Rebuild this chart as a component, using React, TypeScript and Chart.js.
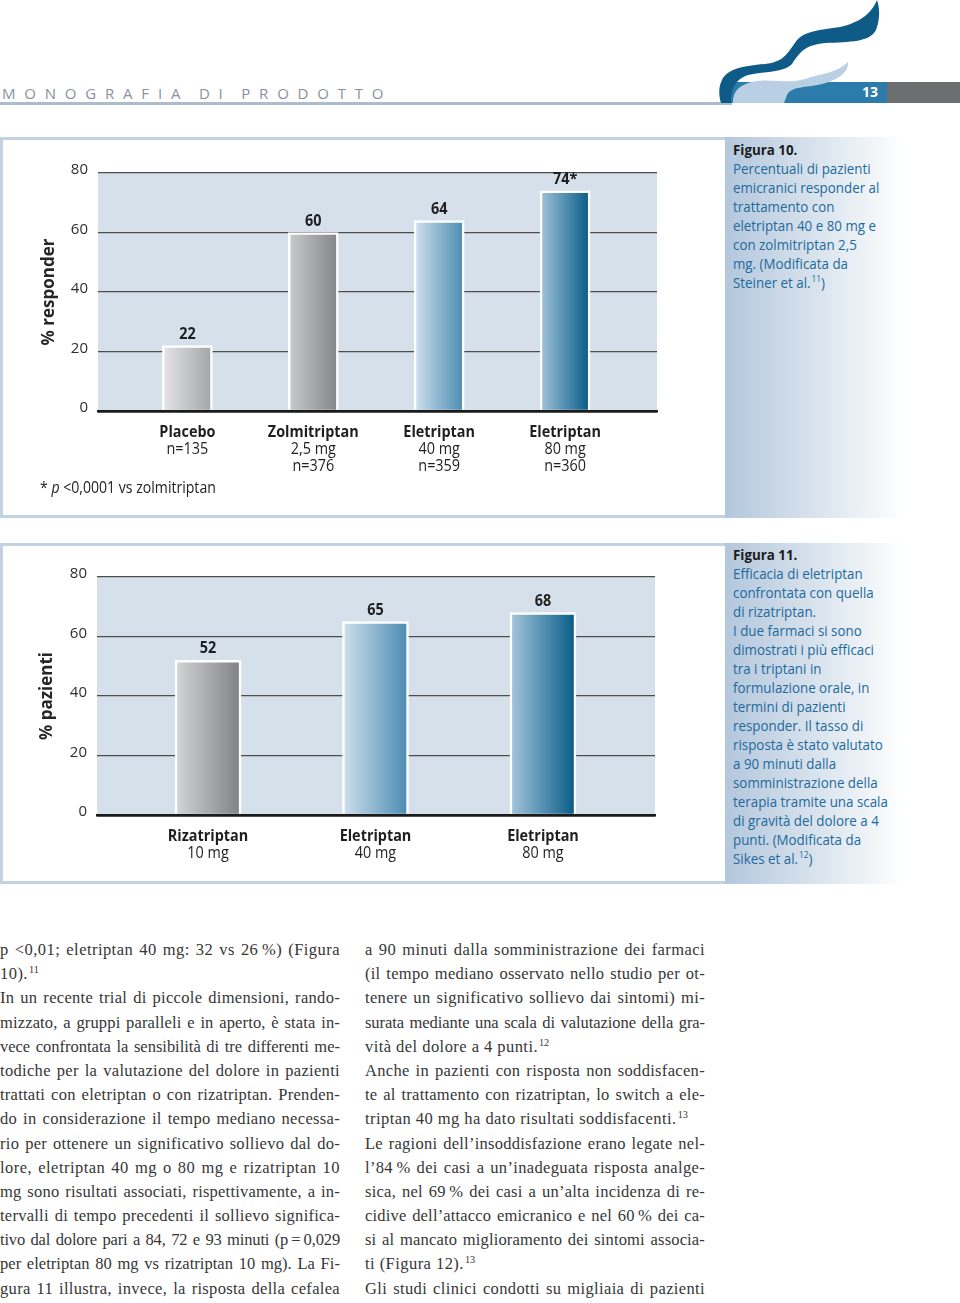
import React, { useEffect, useRef } from 'react';
import { Chart, registerables } from 'chart.js';

Chart.register(...registerables);

const SANS = "'Open Sans', 'Noto Sans', sans-serif";
const SERIF = "'Liberation Serif', 'Times New Roman', serif";

// ---------- Figure 10 data ----------
const fig10Categories: string[][] = [
  ['Placebo', 'n=135'],
  ['Zolmitriptan', '2,5 mg', 'n=376'],
  ['Eletriptan', '40 mg', 'n=359'],
  ['Eletriptan', '80 mg', 'n=360'],
];
const fig10Values = [22, 60, 64, 74];
const fig10ValueLabels = ['22', '60', '64', '74*'];
const fig10Gradients = [
  ['#e5e5e6', '#a2a4a7'],
  ['#cacbcd', '#838588'],
  ['#d0e1ed', '#4a8ab2'],
  ['#a2c3da', '#045b87'],
];

// ---------- Figure 11 data ----------
const fig11Categories: string[][] = [
  ['Rizatriptan', '10 mg'],
  ['Eletriptan', '40 mg'],
  ['Eletriptan', '80 mg'],
];
const fig11Values = [52, 65, 68];
const fig11ValueLabels = ['52', '65', '68'];
const fig11Gradients = [
  ['#d4d5d7', '#7f8184'],
  ['#cfe1ed', '#4a8ab2'],
  ['#a6c6dc', '#055b86'],
];

const yTickValues = [0, 20, 40, 60, 80];

// ---------- captions & body ----------
const fig10Caption = [
  'Percentuali di pazienti',
  'emicranici responder al',
  'trattamento con',
  'eletriptan 40 e 80 mg e',
  'con zolmitriptan 2,5',
  'mg. (Modificata da',
];
const fig11Caption = [
  'Efficacia di eletriptan',
  'confrontata con quella',
  'di rizatriptan.',
  'I due farmaci si sono',
  'dimostrati i più efficaci',
  'tra i triptani in',
  'formulazione orale, in',
  'termini di pazienti',
  'responder. Il tasso di',
  'risposta è stato valutato',
  'a 90 minuti dalla',
  'somministrazione della',
  'terapia tramite una scala',
  'di gravità del dolore a 4',
  'punti. (Modificata da',
];

type Line = [string, string, boolean];
const leftLines: Line[] = [
  ['p <0,01; eletriptan 40 mg: 32 vs 26\u2009%) (Figura', '', true],
  ['10).', '11', false],
  ['In un recente trial di piccole dimensioni, rando-', '', true],
  ['mizzato, a gruppi paralleli e in aperto, è stata in-', '', true],
  ['vece confrontata la sensibilità di tre differenti me-', '', true],
  ['todiche per la valutazione del dolore in pazienti', '', true],
  ['trattati con eletriptan o con rizatriptan. Prenden-', '', true],
  ['do in considerazione il tempo mediano necessa-', '', true],
  ['rio per ottenere un significativo sollievo dal do-', '', true],
  ['lore, eletriptan 40 mg o 80 mg e rizatriptan 10', '', true],
  ['mg sono risultati associati, rispettivamente, a in-', '', true],
  ['tervalli di tempo precedenti il sollievo significa-', '', true],
  ['tivo dal dolore pari a 84, 72 e 93 minuti (p\u2009=\u20090,029', '', true],
  ['per eletriptan 80 mg vs rizatriptan 10 mg). La Fi-', '', true],
  ['gura 11 illustra, invece, la risposta della cefalea', '', true],
];
const rightLines: Line[] = [
  ['a 90 minuti dalla somministrazione dei farmaci', '', true],
  ['(il tempo mediano osservato nello studio per ot-', '', true],
  ['tenere un significativo sollievo dai sintomi) mi-', '', true],
  ['surata mediante una scala di valutazione della gra-', '', true],
  ['vità del dolore a 4 punti.', '12', false],
  ['Anche in pazienti con risposta non soddisfacen-', '', true],
  ['te al trattamento con rizatriptan, lo switch a ele-', '', true],
  ['triptan 40 mg ha dato risultati soddisfacenti.', '13', false],
  ['Le ragioni dell’insoddisfazione erano legate nel-', '', true],
  ['l’84\u2009% dei casi a un’inadeguata risposta analge-', '', true],
  ['sica, nel 69\u2009% dei casi a un’alta incidenza di re-', '', true],
  ['cidive dell’attacco emicranico e nel 60\u2009% dei ca-', '', true],
  ['si al mancato miglioramento dei sintomi associa-', '', true],
  ['ti (Figura 12).', '13', false],
  ['Gli studi clinici condotti su migliaia di pazienti', '', true],
];

// ---------- chart helpers ----------
function drawCondensed(ctx: CanvasRenderingContext2D, text: string, x: number, y: number, font: string, sx = 0.9) {
  ctx.save();
  ctx.font = font;
  ctx.translate(x, y);
  ctx.scale(sx, 1);
  ctx.fillText(text, 0, 0);
  ctx.restore();
}

type FigOpts = {
  categories: string[][];
  values: number[];
  valueLabels: string[];
  gradients: string[][];
  yTitle: string;
  titlePad: number;
  xMin: number;
  xMax: number;
  barPx: number;
  padTop: number;
  padRight: number;
  yWidth: number;
  xHeight: number;
};

function makeConfig(o: FigOpts): any {
  const bgPlugin = {
    id: 'plotBg',
    beforeDraw(chart: any) {
      const { ctx, chartArea } = chart;
      ctx.save();
      ctx.fillStyle = '#d5e0eb';
      ctx.fillRect(chartArea.left, chartArea.top, chartArea.right - chartArea.left, chartArea.bottom - chartArea.top);
      ctx.restore();
    },
  };
  const labelPlugin = {
    id: 'barLabels',
    afterDraw(chart: any) {
      const { ctx, chartArea } = chart;
      const xs = chart.scales.x;
      const meta = chart.getDatasetMeta(0);
      ctx.save();
      ctx.fillStyle = '#1f1f1f';
      ctx.textAlign = 'center';
      ctx.textBaseline = 'alphabetic';
      meta.data.forEach((bar: any, i: number) => {
        const cx = xs.getPixelForValue(i);
        drawCondensed(ctx, o.valueLabels[i], cx, bar.y - 7, `bold 16px ${SANS}`);
        o.categories[i].forEach((line, j) => {
          drawCondensed(ctx, line, cx, chartArea.bottom + 26 + j * 17, `${j === 0 ? 'bold ' : ''}16px ${SANS}`);
        });
      });
      ctx.restore();
    },
  };
  return {
    type: 'bar',
    data: {
      datasets: [
        {
          data: o.values.map((v, i) => ({ x: i, y: v })),
          barThickness: o.barPx,
          borderColor: '#ffffff',
          borderWidth: 2.5,
          backgroundColor: (c: any) => {
            const i = c.dataIndex ?? 0;
            if (c.type !== 'data') return o.gradients[0][1];
            const chart = c.chart;
            const xs = chart.scales && chart.scales.x;
            if (!xs || !chart.chartArea) return o.gradients[i][1];
            const cx = xs.getPixelForValue(i);
            const g = chart.ctx.createLinearGradient(cx - o.barPx / 2, 0, cx + o.barPx / 2, 0);
            g.addColorStop(0, o.gradients[i][0]);
            g.addColorStop(1, o.gradients[i][1]);
            return g;
          },
        },
      ],
    },
    options: {
      animation: false,
      responsive: true,
      maintainAspectRatio: false,
      devicePixelRatio: 1,
      layout: { padding: { left: 0, right: o.padRight, top: o.padTop, bottom: 0 } },
      plugins: { legend: { display: false }, tooltip: { enabled: false } },
      scales: {
        x: {
          type: 'linear',
          min: o.xMin,
          max: o.xMax,
          offset: false,
          grid: { display: false, drawTicks: false },
          ticks: { display: false },
          border: { display: true, color: '#1b1b1b', width: 2.5, z: 1 },
          afterFit: (s: any) => {
            s.height = o.xHeight;
          },
        },
        y: {
          min: 0,
          max: 80,
          afterBuildTicks: (s: any) => {
            s.ticks = yTickValues.map((v) => ({ value: v }));
          },
          grid: {
            color: (c: any) => (c.tick && c.tick.value === 0 ? '#1b1b1b' : '#4d4d4d'),
            lineWidth: (c: any) => (c.tick && c.tick.value === 0 ? 2.5 : 1.3),
            drawTicks: false,
          },
          border: { display: false },
          ticks: { padding: 10, color: '#2e2e2e', font: { size: 15, family: SANS }, labelOffset: -3 },
          title: {
            display: true,
            text: o.yTitle,
            color: '#262626',
            font: { size: 17, weight: 'bold', family: SANS },
            padding: { top: o.titlePad, bottom: 0 },
          },
          afterFit: (s: any) => {
            s.width = o.yWidth;
          },
        },
      },
    },
    plugins: [bgPlugin, labelPlugin],
  };
}

function BarFigure({ opts, left, top, width, height }: { opts: FigOpts; left: number; top: number; width: number; height: number }) {
  const ref = useRef<HTMLCanvasElement>(null);
  useEffect(() => {
    const chart = new Chart(ref.current as HTMLCanvasElement, makeConfig(opts));
    return () => chart.destroy();
  }, []);
  return (
    <div style={{ position: 'absolute', left, top, width, height }}>
      <canvas ref={ref} />
    </div>
  );
}

const supStyle: React.CSSProperties = {
  fontSize: '0.62em',
  verticalAlign: 'baseline',
  position: 'relative',
  top: '-0.6em',
  marginLeft: 1,
  letterSpacing: 0,
};

function Caption({ left, top, title, lines, last }: { left: number; top: number; title: string; lines: string[]; last: React.ReactNode }) {
  return (
    <div
      style={{
        position: 'absolute',
        left,
        top,
        fontFamily: SANS,
        fontSize: 15,
        lineHeight: '19px',
        whiteSpace: 'nowrap',
        transform: 'scaleX(0.89)',
        transformOrigin: 'left top',
        color: '#216a9c',
      }}
    >
      <div style={{ fontWeight: 700, color: '#1c1c1c' }}>{title}</div>
      {lines.map((l, i) => (
        <div key={i}>{l}</div>
      ))}
      <div>{last}</div>
    </div>
  );
}

// text measurement for fitting each justified line
const BODY_SIZE = 16.5;
const COL_W = 340;
let measureCtx: CanvasRenderingContext2D | null = null;
function measure(t: string): number {
  if (!measureCtx) measureCtx = document.createElement('canvas').getContext('2d');
  if (!measureCtx) return t.length * 7;
  measureCtx.font = `${BODY_SIZE}px ${SERIF}`;
  return measureCtx.measureText(t).width;
}
function spacingFor(t: string, justify: boolean): number {
  if (!justify) return 0.45;
  const w = measure(t);
  const spaces = (t.match(/ /g) || []).length;
  const s = (COL_W - w - spaces * 1.5) / t.length;
  return Math.max(-0.3, Math.min(0.6, s));
}

function Column({ left, top, lines }: { left: number; top: number; lines: Line[] }) {
  return (
    <div style={{ position: 'absolute', left, top, width: COL_W }}>
      {lines.map(([t, sup, j], i) => (
        <div
          key={i}
          style={{
            width: COL_W,
            height: 24.2,
            lineHeight: '24.2px',
            fontFamily: SERIF,
            fontSize: BODY_SIZE,
            color: '#363636',
            whiteSpace: 'nowrap',
            letterSpacing: `${spacingFor(t, j).toFixed(2)}px`,
            textAlign: j ? 'justify' : 'left',
            textAlignLast: j ? 'justify' : 'left',
          }}
        >
          {t}
          {sup ? <span style={supStyle}>{sup}</span> : null}
        </div>
      ))}
    </div>
  );
}

export default function App() {
  const fig10: FigOpts = {
    categories: fig10Categories,
    values: fig10Values,
    valueLabels: fig10ValueLabels,
    gradients: fig10Gradients,
    yTitle: '% responder',
    titlePad: 39,
    xMin: -0.71,
    xMax: 3.73,
    barPx: 50,
    padTop: 33,
    padRight: 68,
    yWidth: 98,
    xHeight: 104,
  };
  const fig11: FigOpts = {
    categories: fig11Categories,
    values: fig11Values,
    valueLabels: fig11ValueLabels,
    gradients: fig11Gradients,
    yTitle: '% pazienti',
    titlePad: 37,
    xMin: -0.663,
    xMax: 2.669,
    barPx: 66,
    padTop: 31,
    padRight: 70,
    yWidth: 97,
    xHeight: 66,
  };

  const panelBorder = '3px solid #c3d2e0';
  const captionBg = 'linear-gradient(90deg, #b3c7dd 0%, #d5e0eb 45%, #ffffff 100%)';

  return (
    <div style={{ position: 'absolute', left: 0, top: 0, width: 960, height: 1303, overflow: 'hidden', background: '#ffffff' }}>
      {/* Header */}
      <div
        style={{
          position: 'absolute',
          left: 2,
          top: 83,
          fontFamily: SANS,
          fontSize: 15,
          lineHeight: '20px',
          letterSpacing: '8.8px',
          wordSpacing: '-3px',
          color: '#8b9198',
          whiteSpace: 'nowrap',
        }}
      >
        MONOGRAFIA DI PRODOTTO
      </div>
      <div style={{ position: 'absolute', left: 0, top: 102, width: 732, height: 3, background: '#a9bdce' }} />
      <svg style={{ position: 'absolute', left: 700, top: 0 }} width={260} height={110} viewBox="700 0 260 110">
        <rect x={730} y={82} width={157} height={21} fill="#2b7cab" />
        <rect x={887} y={82} width={73} height={21} fill="#6d6e70" />
        <path
          d="M 877 0 C 872 12, 862 22, 840 27 C 820 30, 805 31, 797 40 C 788 52, 785 62, 765 64 C 745 66, 728 68, 722 80 C 718 88, 719 96, 721 103 L 731 103 C 731 92, 733 80, 748 75 C 765 71, 783 73, 792 64 C 800 52, 805 45, 825 43 C 850 42, 870 42, 876 30 C 880 20, 880 8, 877 0 Z"
          fill="#0f5b87"
        />
        <path
          d="M 733 103 C 733 92, 738 84, 757 81 C 775 79, 790 84, 805 79 C 822 73, 835 74, 848 62 C 849 72, 838 80, 822 84 C 805 88, 792 86, 787 95 L 784 103 Z"
          fill="#b9d0e4"
        />
        <text x={878} y={97} textAnchor="end" fill="#ffffff" fontFamily={SANS} fontWeight={700} fontSize={14}>
          13
        </text>
      </svg>

      {/* Figure 10 panel */}
      <div style={{ position: 'absolute', left: 725, top: 137, width: 180, height: 381, background: captionBg }} />
      <div
        style={{
          position: 'absolute',
          left: 0,
          top: 137,
          width: 725,
          height: 381,
          boxSizing: 'border-box',
          borderTop: panelBorder,
          borderBottom: panelBorder,
          borderLeft: panelBorder,
          background: '#ffffff',
        }}
      />
      <BarFigure opts={fig10} left={0} top={140} width={725} height={375} />
      <div
        style={{
          position: 'absolute',
          left: 40,
          top: 477,
          fontFamily: SANS,
          fontSize: 16,
          lineHeight: '20px',
          color: '#222',
          whiteSpace: 'nowrap',
          transform: 'scaleX(0.88)',
          transformOrigin: 'left top',
        }}
      >
        * <i>p</i> &lt;0,0001 vs zolmitriptan
      </div>
      <Caption
        left={733}
        top={140}
        title="Figura 10."
        lines={fig10Caption}
        last={
          <>
            Steiner et al.<span style={supStyle}>11</span>)
          </>
        }
      />

      {/* Figure 11 panel */}
      <div style={{ position: 'absolute', left: 725, top: 543, width: 180, height: 341, background: captionBg }} />
      <div
        style={{
          position: 'absolute',
          left: 0,
          top: 543,
          width: 725,
          height: 341,
          boxSizing: 'border-box',
          borderTop: panelBorder,
          borderBottom: panelBorder,
          borderLeft: panelBorder,
          background: '#ffffff',
        }}
      />
      <BarFigure opts={fig11} left={0} top={546} width={725} height={335} />
      <Caption
        left={733}
        top={545}
        title="Figura 11."
        lines={fig11Caption}
        last={
          <>
            Sikes et al.<span style={supStyle}>12</span>)
          </>
        }
      />

      {/* Body text */}
      <Column left={0} top={938} lines={leftLines} />
      <Column left={365} top={938} lines={rightLines} />
    </div>
  );
}
